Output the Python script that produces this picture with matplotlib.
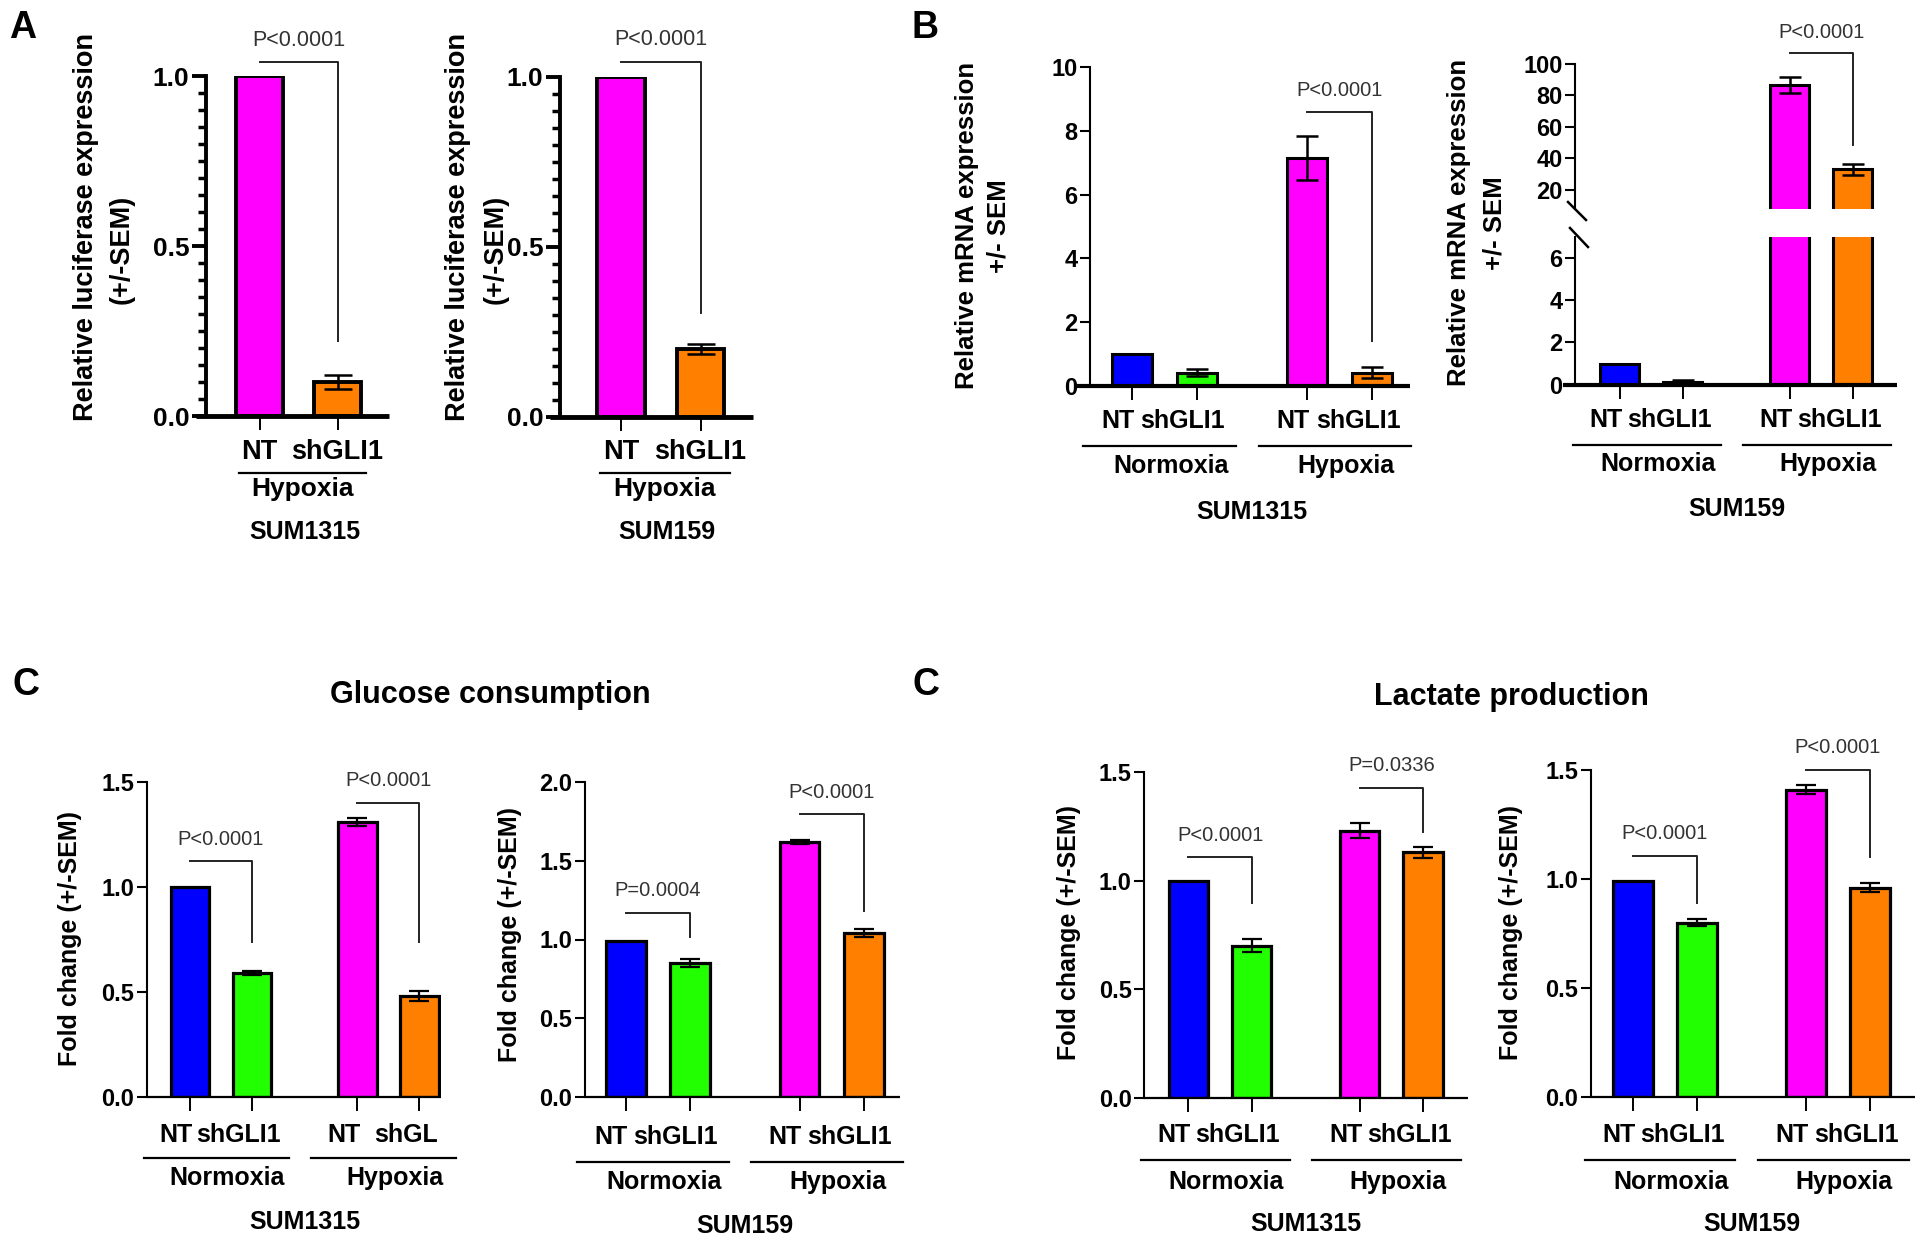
import matplotlib
matplotlib.use('Agg')
import matplotlib.pyplot as plt
from matplotlib.lines import Line2D
from matplotlib.transforms import blended_transform_factory

plt.rcParams['font.family'] = ['Liberation Sans', 'DejaVu Sans']

# ---- data ----
cond_labels = ['NT', 'shGLI1']
group_labels = ['Normoxia', 'Hypoxia']

# A: luciferase, hypoxia only
luc_1315 = [1.0, 0.10]
luc_1315_err = [0.0, 0.02]
luc_159 = [1.0, 0.20]
luc_159_err = [0.0, 0.015]

# B: GLI1 mRNA
mrna_1315 = [1.0, 0.42, 7.15, 0.42]
mrna_1315_err = [0.0, 0.12, 0.70, 0.17]
mrna_159 = [1.0, 0.12, 86.5, 33.0]
mrna_159_err = [0.0, 0.08, 5.0, 3.5]

# C: glucose consumption
glu_1315 = [1.0, 0.59, 1.31, 0.48]
glu_1315_err = [0.0, 0.01, 0.02, 0.025]
glu_159 = [0.99, 0.85, 1.62, 1.04]
glu_159_err = [0.0, 0.025, 0.012, 0.025]

# C: lactate production
lac_1315 = [1.0, 0.70, 1.23, 1.13]
lac_1315_err = [0.0, 0.03, 0.035, 0.025]
lac_159 = [0.99, 0.80, 1.41, 0.96]
lac_159_err = [0.0, 0.015, 0.02, 0.02]

# p-values
p_luc = 'P<0.0001'
p_mrna = 'P<0.0001'
p_glu_1315 = ['P<0.0001', 'P<0.0001']
p_glu_159 = ['P=0.0004', 'P<0.0001']
p_lac_1315 = ['P<0.0001', 'P=0.0336']
p_lac_159 = ['P<0.0001', 'P<0.0001']

BLUE, GREEN, MAGENTA, ORANGE = '#0000FF', '#22FF00', '#FF00FF', '#FF8000'
colors4 = [BLUE, GREEN, MAGENTA, ORANGE]
colors2 = [MAGENTA, ORANGE]
pos2 = [0, 1]
pos4 = [0, 1, 2.7, 3.7]

W, H = 1920, 1244
fig = plt.figure(figsize=(W / 100, H / 100), dpi=100)


def add_ax(l, r, t, b):
    ax = fig.add_axes([l / W, 1 - b / H, (r - l) / W, (b - t) / H])
    ax.wpx = r - l
    return ax


def ftext(x, y, s, **kw):
    fig.text(x / W, 1 - y / H, s, **kw)


def setup(ax, xlim, ylim, yticks, fmt, yfs, lw_y, lw_x, ext_px, pos,
          ytick_len=7, xtick_len=10):
    ax.set_xlim(xlim)
    ax.set_ylim(ylim)
    for s in ['top', 'right', 'bottom']:
        ax.spines[s].set_visible(False)
    ax.spines['left'].set_linewidth(lw_y)
    ax.set_yticks(yticks)
    ax.set_yticklabels([fmt.format(v) for v in yticks], fontweight='bold', fontsize=yfs)
    ax.tick_params(axis='y', length=ytick_len, width=max(lw_y, 1.5), pad=2)
    ax.set_xticks(pos)
    ax.tick_params(axis='x', length=xtick_len, width=1.4, labelbottom=False)
    ax.patch.set_alpha(0)
    ax.axhline(ylim[0], xmin=-ext_px / ax.wpx, xmax=1, color='k', lw=lw_x,
               clip_on=False, zorder=5, solid_capstyle='butt')


def bars(ax, pos, vals, errs, cols, width, lw, capsize, elw):
    ax.bar(pos, vals, width, color=cols, edgecolor='k', linewidth=lw, zorder=2)
    ep = [p for p, e in zip(pos, errs) if e > 0]
    ev = [v for v, e in zip(vals, errs) if e > 0]
    ee = [e for e in errs if e > 0]
    ax.errorbar(ep, ev, yerr=ee, fmt='none', ecolor='k', elinewidth=elw,
                capsize=capsize, capthick=elw, zorder=3)


def bracket(ax, x0, x1, top, leg, text, fs=14.5, off=11.5):
    ax.plot([x0, x1, x1], [top, top, leg], color='#222222', lw=1.4,
            clip_on=False, zorder=4)
    ax.annotate(text, xy=((x0 + x1) / 2, top), xytext=(0, off),
                textcoords='offset points', ha='center', va='baseline',
                fontsize=fs, color='#333333', annotation_clip=False)


def below(ax, x, y, s, fs=18):
    tr = blended_transform_factory(ax.transData, fig.transFigure)
    ax.text(x, 1 - y / H, s, transform=tr, ha='center', va='center',
            fontsize=fs, fontweight='bold', clip_on=False)


def uline(ax, x0, x1, y, lw=1.6):
    tr = blended_transform_factory(ax.transData, fig.transFigure)
    ax.plot([x0, x1], [1 - y / H] * 2, transform=tr, color='k', lw=lw,
            clip_on=False)


def xlabels4(ax, pos, rows, cell, fs=18, last=None, shift=-0.22):
    y_tick, y_line, y_grp, y_cell = rows
    labs = cond_labels + [cond_labels[0], last or cond_labels[1]]
    for p, s in zip(pos, labs):
        below(ax, p + shift, y_tick, s, fs)
    for k in range(2):
        a, b = pos[2 * k], pos[2 * k + 1]
        uline(ax, a - 0.75, b + 0.6, y_line)
        below(ax, (a + b) / 2 + 0.1, y_grp, group_labels[k], fs)
    below(ax, (pos[0] + pos[-1]) / 2, y_cell, cell, fs)


# ---------------- A ----------------
for (l, r, t, b, xl), vals, errs, p_top, p_leg, cell, ylx in [
        ((206, 389, 76, 416, (-0.686, 1.66)), luc_1315, luc_1315_err, 1.04, 0.22,
         'SUM1315', (86, 122)),
        ((560, 753, 77, 417, (-0.767, 1.66)), luc_159, luc_159_err, 1.045, 0.305,
         'SUM159', (458, 496))]:
    ax = add_ax(l, r, t, b)
    bars(ax, pos2, vals, errs, colors2, 0.6, 2.8, 10, 1.8)
    setup(ax, xl, (0, 1.0), [0, 0.5, 1.0], '{:.1f}', 19, 2.8, 3.5, 10, pos2,
          ytick_len=10, xtick_len=10)
    ax.set_yticks([i * 0.05 for i in range(21)], minor=True)
    ax.tick_params(axis='y', which='minor', length=6, width=2.5)
    bracket(ax, 0, 1, p_top, p_leg, p_luc, fs=15.5, off=12)
    for p, s in zip(pos2, cond_labels):
        below(ax, p, 452, s, 19.5)
    uline(ax, -0.26, 1.37, 473)
    below(ax, 0.55, 489, 'Hypoxia', 19)
    below(ax, 0.58, 532, cell, 18)
    ftext(ylx[0], 227, 'Relative luciferase expression', rotation=90, ha='center',
          va='center', fontsize=19.5, fontweight='bold')
    ftext(ylx[1], 249, '(+/-SEM)', rotation=90, ha='center', va='center',
          fontsize=19.5, fontweight='bold')

# ---------------- B ----------------
ax = add_ax(1090, 1410, 67, 386)
bars(ax, pos4, mrna_1315, mrna_1315_err, colors4, 0.62, 2.2, 8, 1.8)
setup(ax, (-0.646, 4.28), (0, 10), [0, 2, 4, 6, 8, 10], '{:d}', 17, 1.5, 3.0, 14, pos4)
bracket(ax, pos4[2], pos4[3], 8.6, 1.4, p_mrna, off=11)
xlabels4(ax, pos4, (421, 446, 466, 512), 'SUM1315')
ftext(967, 225, 'Relative mRNA expression', rotation=90, ha='center', va='center',
      fontsize=18.5, fontweight='bold')
ftext(998, 226, '+/- SEM', rotation=90, ha='center', va='center',
      fontsize=18.5, fontweight='bold')

# broken axis for SUM159
xl = (-0.714, 4.40)
ax_lo = add_ax(1575, 1897, 237, 384.6)
ax_hi = add_ax(1575, 1897, 63.6, 209)
for a in (ax_lo, ax_hi):
    bars(a, pos4, mrna_159, mrna_159_err, colors4, 0.62, 2.2, 8, 1.8)
setup(ax_lo, xl, (0, 7), [0, 2, 4, 6], '{:d}', 17, 1.5, 3.0, 12, pos4)
setup(ax_hi, xl, (8, 100), [20, 40, 60, 80, 100], '{:d}', 17, 1.5, 0, 0, pos4)
ax_hi.lines[-1].set_visible(False)
ax_hi.tick_params(axis='x', length=0)
bracket(ax_hi, pos4[2], pos4[3], 106.8, 48.7, p_mrna, off=11)
for (x0, y0, x1, y1) in [(1568, 202, 1586, 220), (1570, 228, 1588, 247)]:
    fig.add_artist(Line2D([x0 / W, x1 / W], [1 - y0 / H, 1 - y1 / H],
                          transform=fig.transFigure, color='k', lw=1.8))
xlabels4(ax_lo, pos4, (420, 445, 464, 509), 'SUM159')
ftext(1459, 222, 'Relative mRNA expression', rotation=90, ha='center', va='center',
      fontsize=18.5, fontweight='bold')
ftext(1494, 223, '+/- SEM', rotation=90, ha='center', va='center',
      fontsize=18.5, fontweight='bold')

# ---------------- C ----------------
panels_c = [
    ((147, 441, 782, 1097), (-0.694, 4.05), glu_1315, glu_1315_err, (0, 1.5),
     [0, 0.5, 1.0, 1.5], [(1.123, 0.74), (1.40, 0.74)], p_glu_1315, 'SUM1315',
     (1135, 1158, 1178, 1222), (70, 938), 'shGL'),
    ((585, 900, 782, 1097), (-0.63, 4.26), glu_159, glu_159_err, (0, 2.0),
     [0, 0.5, 1.0, 1.5, 2.0], [(1.17, 1.017), (1.795, 1.18)], p_glu_159, 'SUM159',
     (1137, 1162, 1182, 1226), (510, 934), None),
    ((1144, 1468, 772, 1098), (-0.70, 4.41), lac_1315, lac_1315_err, (0, 1.5),
     [0, 0.5, 1.0, 1.5], [(1.108, 0.897), (1.427, 1.225)], p_lac_1315, 'SUM1315',
     (1135, 1160, 1182, 1224), (1069, 933), None),
    ((1591, 1915, 770, 1097), (-0.65, 4.40), lac_159, lac_159_err, (0, 1.5),
     [0, 0.5, 1.0, 1.5], [(1.107, 0.89), (1.50, 1.103)], p_lac_159, 'SUM159',
     (1135, 1160, 1182, 1224), (1511, 932), None),
]
for rect, xl, vals, errs, yl, yt, brk, ptxt, cell, rows, ylab, last in panels_c:
    ax = add_ax(*rect)
    bars(ax, pos4, vals, errs, colors4, 0.62, 2.3, 7, 1.6)
    setup(ax, xl, yl, yt, '{:.1f}', 17, 1.5, 1.6, 0, pos4)
    for k, (top, leg) in enumerate(brk):
        bracket(ax, pos4[2 * k], pos4[2 * k + 1], top, leg, ptxt[k], off=12)
    xlabels4(ax, pos4, rows, cell, last=last)
    ftext(ylab[0], ylab[1], 'Fold change (+/-SEM)', rotation=90, ha='center',
          va='center', fontsize=18, fontweight='bold')

# titles and panel letters
ftext(490, 703, 'Glucose consumption', ha='center', va='baseline', fontsize=22,
      fontweight='bold')
ftext(1511, 705, 'Lactate production', ha='center', va='baseline', fontsize=22,
      fontweight='bold')
for x, y, s in [(9, 37.5, 'A'), (912, 37.5, 'B'), (12, 695, 'C'), (912, 695, 'C')]:
    ftext(x, y, s, ha='left', va='baseline', fontsize=27, fontweight='bold')

fig.savefig('out.png', dpi=100)
